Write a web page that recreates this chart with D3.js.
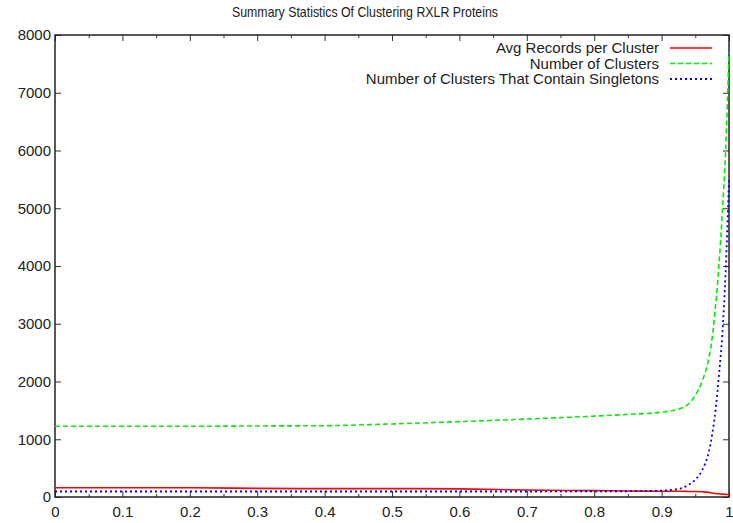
<!DOCTYPE html>
<html>
<head>
<meta charset="utf-8">
<script src="https://cdn.jsdelivr.net/npm/d3@7"></script>
<style>
  body { margin: 0; background: #fff; }
  svg text { font-family: "Liberation Sans", Arial, sans-serif; fill: #222; }
</style>
</head>
<body>
<script>
// similarity threshold on the x axis
const thresholds = [0, 0.1, 0.2, 0.3, 0.4, 0.5, 0.6, 0.7, 0.8, 0.85, 0.9, 0.92, 0.93, 0.94, 0.95, 0.96, 0.97, 0.975, 0.98, 0.985, 0.99, 0.995, 1.0];
// number of clusters
const numClusters = [1225, 1225, 1225, 1230, 1235, 1265, 1305, 1350, 1400, 1430, 1470, 1505, 1540, 1610, 1760, 2000, 2400, 2750, 3300, 4000, 4900, 6000, 7700];
// number of clusters that contain singletons
const singletons = [95, 95, 95, 95, 95, 95, 95, 95, 100, 100, 110, 130, 155, 210, 300, 460, 780, 1080, 1500, 2100, 2800, 3900, 5500];
// average records per cluster
const avgRecords = [160, 160, 160, 150, 145, 145, 140, 120, 110, 105, 100, 100, 100, 95, 95, 90, 80, 70, 60, 55, 50, 45, 40];

const seriesNames = ["Avg Records per Cluster", "Number of Clusters", "Number of Clusters That Contain Singletons"];
const xTicks = [0, 0.1, 0.2, 0.3, 0.4, 0.5, 0.6, 0.7, 0.8, 0.9, 1];
const yTicks = [0, 1000, 2000, 3000, 4000, 5000, 6000, 7000, 8000];

const width = 733, height = 523;
const margin = {top: 35, right: 4, bottom: 26, left: 55};

const svg = d3.select("body").append("svg")
  .attr("width", width)
  .attr("height", height);

const x = d3.scaleLinear().domain([0, 1]).range([margin.left, width - margin.right]);
const y = d3.scaleLinear().domain([0, 8000]).range([height - margin.bottom, margin.top]);

// title (gnuplot font is narrow, so squeeze it a bit)
svg.append("text")
  .attr("x", 365).attr("y", 17)
  .attr("text-anchor", "middle")
  .attr("textLength", 266)
  .attr("lengthAdjust", "spacingAndGlyphs")
  .style("font-size", "14.5px")
  .text("Summary Statistics Of Clustering RXLR Proteins");

// axes with inward ticks
const minor = d3.range(0.05, 1, 0.1);
const xAxis = d3.axisBottom(x).tickValues(xTicks).tickSize(-6).tickPadding(9)
  .tickFormat(d => d === 0 || d === 1 ? d3.format("d")(d) : d3.format(".1f")(d));
const yAxis = d3.axisLeft(y).tickValues(yTicks).tickSize(-6).tickPadding(4)
  .tickFormat(d3.format("d"));

svg.append("g").attr("transform", `translate(0,${y(0)})`).call(xAxis);
svg.append("g").attr("transform", `translate(${x(0)},0)`).call(yAxis);
svg.append("g").attr("transform", `translate(0,${y(0)})`)
  .call(d3.axisBottom(x).tickValues(minor).tickSize(-3).tickFormat(""));
// mirrored ticks on top and right
svg.append("g").attr("transform", `translate(0,${y(8000)})`)
  .call(d3.axisTop(x).tickValues(xTicks).tickSize(-6).tickFormat(""));
svg.append("g").attr("transform", `translate(0,${y(8000)})`)
  .call(d3.axisTop(x).tickValues(minor).tickSize(-3).tickFormat(""));
svg.append("g").attr("transform", `translate(${x(1)},0)`)
  .call(d3.axisRight(y).tickValues(yTicks).tickSize(-6).tickFormat(""));

svg.selectAll(".domain").remove();
svg.selectAll(".tick line").attr("stroke", "#333");
svg.selectAll(".tick text").style("font-size", "15px");

// frame
svg.append("rect")
  .attr("x", x(0)).attr("y", y(8000))
  .attr("width", x(1) - x(0)).attr("height", y(0) - y(8000))
  .attr("fill", "none").attr("stroke", "#222").attr("stroke-width", 1.5);

const series = [
  {name: seriesNames[0], values: avgRecords, color: "#ff0000", dash: null, w: 1.6},
  {name: seriesNames[1], values: numClusters, color: "#00ee00", dash: "5,3", w: 1.6},
  {name: seriesNames[2], values: singletons, color: "#0000ff", dash: "2,3", w: 1.8}
];

const line = d3.line()
  .x((d, i) => x(thresholds[i]))
  .y(d => y(d))
  .curve(d3.curveMonotoneX);

series.forEach(s => {
  svg.append("path")
    .datum(s.values)
    .attr("fill", "none")
    .attr("stroke", s.color)
    .attr("stroke-width", s.w)
    .attr("stroke-dasharray", s.dash)
    .attr("d", line);
});

// legend
const legend = svg.append("g");
series.forEach((s, i) => {
  const ly = 48 + i * 15.5;
  legend.append("text")
    .attr("x", 659).attr("y", ly + 5)
    .attr("text-anchor", "end")
    .style("font-size", "15px")
    .text(s.name);
  legend.append("line")
    .attr("x1", 670).attr("x2", 712)
    .attr("y1", ly).attr("y2", ly)
    .attr("stroke", s.color)
    .attr("stroke-width", s.w)
    .attr("stroke-dasharray", s.dash);
});
</script>
</body>
</html>
